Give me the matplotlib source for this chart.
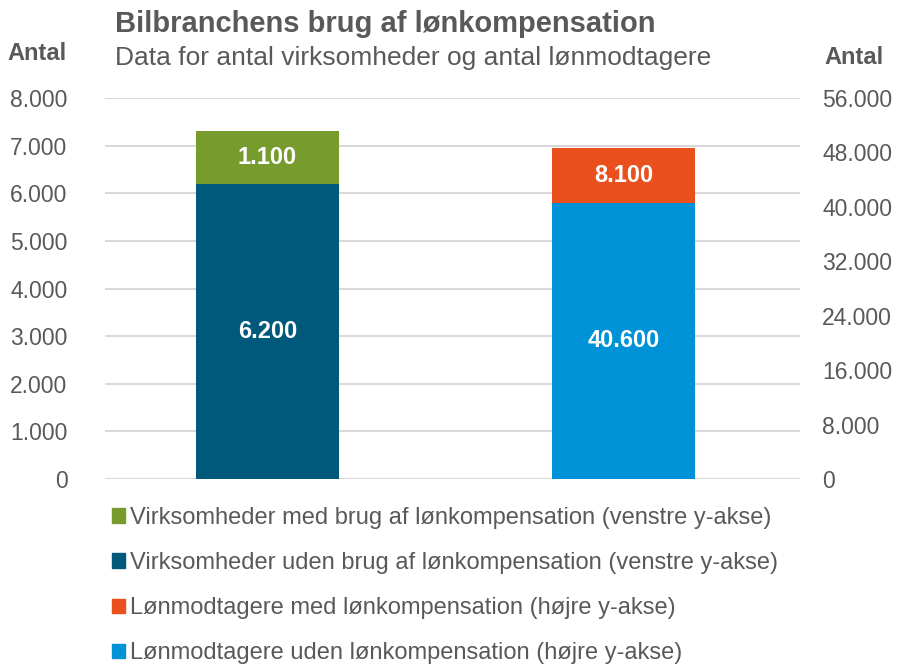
import matplotlib
matplotlib.use("Agg")
import matplotlib.pyplot as plt
from matplotlib.patches import Patch
from matplotlib.ticker import FuncFormatter

plt.rcParams["font.family"] = ["Liberation Sans", "DejaVu Sans"]

# data
firms_without = 6200
firms_with = 1100
employees_without = 40600
employees_with = 8100

left_ticks = [0, 1000, 2000, 3000, 4000, 5000, 6000, 7000, 8000]
right_ticks = [0, 8000, 16000, 24000, 32000, 40000, 48000, 56000]

legend_labels = [
    "Virksomheder med brug af lønkompensation (venstre y-akse)",
    "Virksomheder uden brug af lønkompensation (venstre y-akse)",
    "Lønmodtagere med lønkompensation (højre y-akse)",
    "Lønmodtagere uden lønkompensation (højre y-akse)",
]

GREEN = "#789B2D"
DARK_BLUE = "#00587A"
ORANGE = "#E9501E"
LIGHT_BLUE = "#0092D6"
GREY = "#595959"


def dk(v, _pos=None):
    return f"{int(v):,}".replace(",", ".")


W, H = 897, 668
fig = plt.figure(figsize=(W / 100, H / 100), dpi=100)
ax = fig.add_axes([105 / W, 1 - 479 / H, 695 / W, 381 / H])
ax2 = ax.twinx()

bw = 0.402
ax.bar(0, firms_without, width=bw, color=DARK_BLUE, zorder=3)
ax.bar(0, firms_with, width=bw, bottom=firms_without, color=GREEN, zorder=3)
ax2.bar(1, employees_without, width=bw, color=LIGHT_BLUE, zorder=3)
ax2.bar(1, employees_with, width=bw, bottom=employees_without, color=ORANGE, zorder=3)

lbl = dict(ha="center", va="center", color="white", fontsize=17, fontweight="bold")
ax.text(0, firms_without / 2, dk(firms_without), **lbl)
ax.text(0, firms_without + firms_with / 2, dk(firms_with), **lbl)
ax2.text(1, employees_without / 2, dk(employees_without), **lbl)
ax2.text(1, employees_without + employees_with / 2, dk(employees_with), **lbl)

ax.set_xlim(-0.456, 1.496)
ax.set_ylim(0, 8000)
ax2.set_ylim(0, 56000)
ax.set_yticks(left_ticks)
ax2.set_yticks(right_ticks)
ax.yaxis.set_major_formatter(FuncFormatter(dk))
ax2.yaxis.set_major_formatter(FuncFormatter(dk))
ax.set_xticks([])

ax.grid(axis="y", color="#D9D9D9", linewidth=1.5, zorder=0)
ax.set_axisbelow(True)
for a in (ax, ax2):
    for s in a.spines.values():
        s.set_visible(False)
    a.tick_params(axis="y", length=0, labelsize=16.5, labelcolor=GREY)
ax.tick_params(axis="y", pad=27)
ax2.tick_params(axis="y", pad=16)

fig.text(115 / W, 1 - 24 / H, "Bilbranchens brug af lønkompensation",
         fontsize=21, fontweight="bold", color=GREY, va="center", ha="left")
fig.text(115 / W, 1 - 58 / H, "Data for antal virksomheder og antal lønmodtagere",
         fontsize=19, color=GREY, va="center", ha="left")
fig.text(37 / W, 1 - 53 / H, "Antal", fontsize=17, fontweight="bold",
         color=GREY, va="center", ha="center")
fig.text(854 / W, 1 - 57 / H, "Antal", fontsize=17, fontweight="bold",
         color=GREY, va="center", ha="center")

handles = [Patch(color=c) for c in (GREEN, DARK_BLUE, ORANGE, LIGHT_BLUE)]
fig.legend(handles, legend_labels, loc="upper left",
           bbox_to_anchor=(100 / W, 1 - 495 / H), frameon=False,
           fontsize=17, labelcolor=GREY, handlelength=0.55, handleheight=0.55,
           handletextpad=0.2, labelspacing=0.98, borderpad=0)

fig.savefig("out.png", dpi=100)
